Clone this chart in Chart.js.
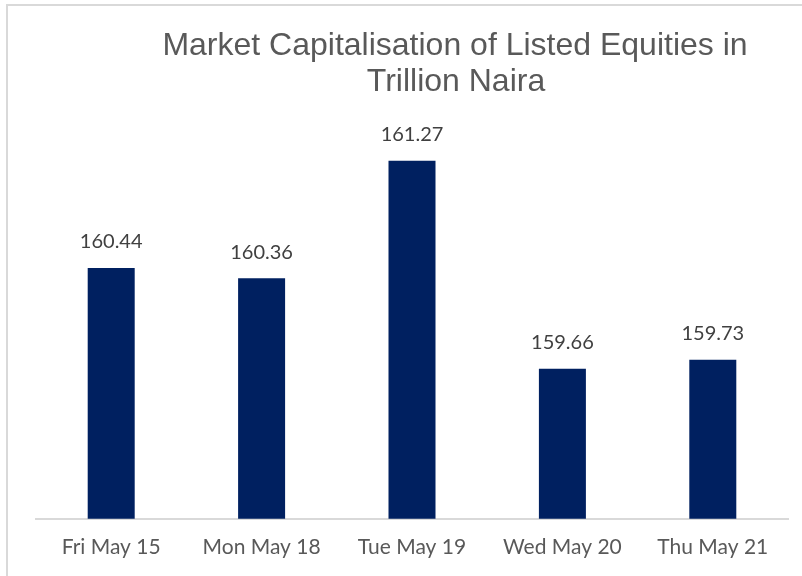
<!DOCTYPE html>
<html>
<head>
<meta charset="utf-8">
<script src="https://cdn.jsdelivr.net/npm/chart.js@4"></script>
<style>
  html, body { margin: 0; padding: 0; background: #fff; }
  #wrap { width: 802px; height: 576px; position: relative; }
</style>
</head>
<body>
<div id="wrap"><canvas id="chartCap"></canvas></div>
<script>
// Market cap (trillion naira)
const days = ['Fri May 15', 'Mon May 18', 'Tue May 19', 'Wed May 20', 'Thu May 21'];
const capValues = [160.44, 160.36, 161.27, 159.66, 159.73];
const titleLines = ['Market Capitalisation of Listed Equities in', 'Trillion Naira'];

// frame + title drawn behind everything
const frameAndTitle = {
    id: 'frameAndTitle',
    beforeDraw(chart) {
        const ctx = chart.ctx;
        ctx.save();
        ctx.strokeStyle = '#d9d9d9';
        ctx.lineWidth = 2;
        ctx.strokeRect(7, 5, 900, 900);
        ctx.fillStyle = '#595959';
        ctx.font = '32px "Liberation Sans", Arial, sans-serif';
        ctx.textAlign = 'center';
        ctx.textBaseline = 'alphabetic';
        ctx.fillText(titleLines[0], 455, 55);
        ctx.fillText(titleLines[1], 456, 91);
        ctx.restore();
    }
};

// value labels above each bar
const valueLabels = {
    id: 'valueLabels',
    afterDatasetsDraw(chart) {
        const ctx = chart.ctx;
        const meta = chart.getDatasetMeta(0);
        ctx.save();
        ctx.fillStyle = '#404040';
        ctx.font = '20px Lato, "Open Sans", sans-serif';
        ctx.textAlign = 'center';
        ctx.textBaseline = 'middle';
        meta.data.forEach(function (bar, i) {
            ctx.fillText(capValues[i].toFixed(2), bar.x, bar.y - 26);
        });
        ctx.restore();
    }
};

const ctxCap = document.getElementById('chartCap').getContext('2d');
const chartCap = new Chart(ctxCap, {
    type: 'bar',
    data: {
        labels: days,
        datasets: [{
            label: 'Market Capitalisation',
            data: capValues,
            backgroundColor: '#002060',
            borderWidth: 0,
            categoryPercentage: 1,
            barPercentage: 0.3125
        }]
    },
    options: {
        responsive: true,
        maintainAspectRatio: false,
        animation: false,
        layout: {
            padding: { left: 36, right: 14, top: 131, bottom: 0 }
        },
        plugins: {
            legend: { display: false },
            title: { display: false },
            tooltip: { enabled: false }
        },
        scales: {
            x: {
                grid: { display: false, drawTicks: false },
                border: { display: true, color: '#d9d9d9', width: 2 },
                ticks: {
                    color: '#595959',
                    font: { family: 'Lato, "Open Sans", sans-serif', size: 21 },
                    padding: 16,
                    maxRotation: 0
                }
            },
            y: {
                display: false,
                min: 158.5,
                max: 161.5
            }
        }
    },
    plugins: [frameAndTitle, valueLabels]
});
</script>
</body>
</html>
